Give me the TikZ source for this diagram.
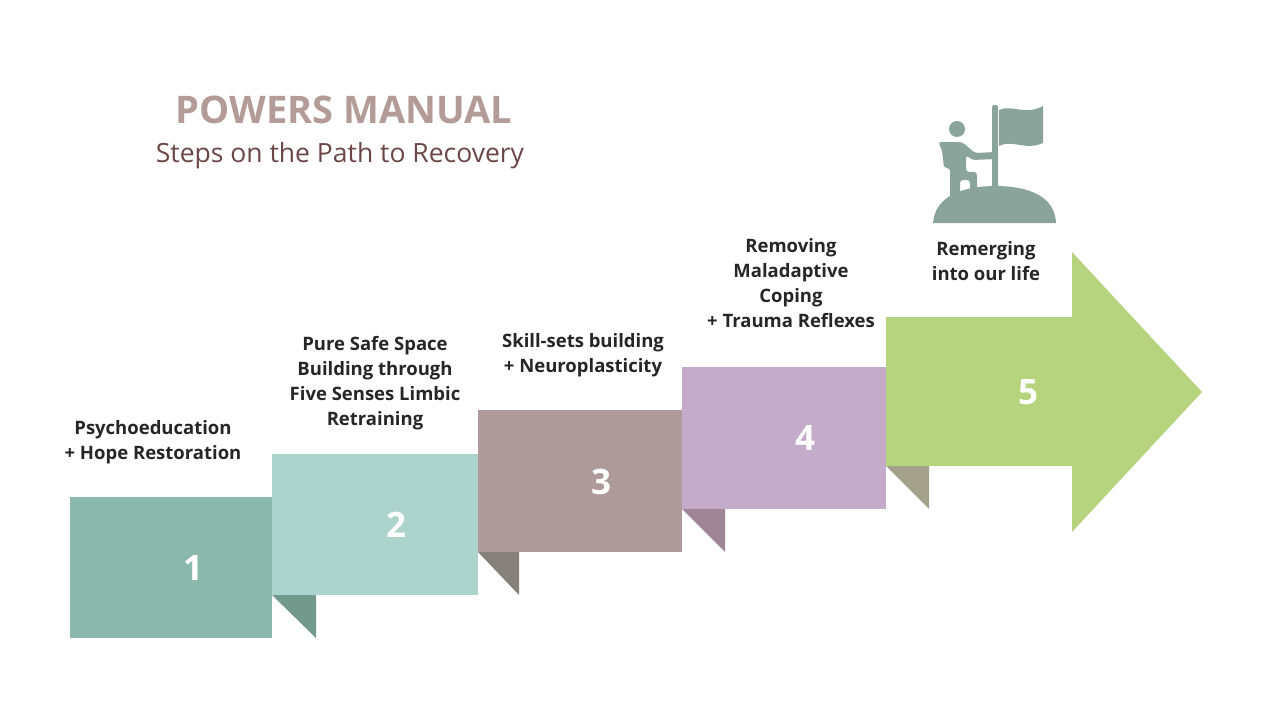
\documentclass[tikz,border=0pt]{standalone}
\usepackage{fontspec}
\setmainfont{Open Sans}
\begin{document}
\begin{tikzpicture}[x=1pt,y=-1pt,
 lbl/.style={font=\fontsize{18.5}{25}\selectfont\bfseries,text=black!85,align=center},
 num/.style={font=\fontsize{35}{35}\selectfont\bfseries,text=white}]
\definecolor{cA}{HTML}{8AB8AB}\definecolor{fA}{HTML}{72998C}
\definecolor{cB}{HTML}{ACD4CC}\definecolor{fB}{HTML}{858079}
\definecolor{cC}{HTML}{AE9A98}\definecolor{fC}{HTML}{9E8696}
\definecolor{cD}{HTML}{C3ABC9}\definecolor{fD}{HTML}{A3A08C}
\definecolor{cE}{HTML}{B6D47E}\definecolor{ic}{HTML}{8AA39B}
\definecolor{tt}{HTML}{B39C97}\definecolor{st}{HTML}{6B4747}
\useasboundingbox (0,0) rectangle (1280,720);
\fill[cA] (70,497) rectangle (272,638);
\fill[fA] (272,595) -- (316,595) -- (316,638) -- cycle;
\fill[cB] (272,454) rectangle (478,595);
\fill[fB] (478,552) -- (519,552) -- (519,595) -- cycle;
\fill[cC] (478,410) rectangle (682,552);
\fill[fC] (682,509) -- (725,509) -- (725,552) -- cycle;
\fill[cD] (682,367) rectangle (886,509);
\fill[fD] (886,466) -- (929,466) -- (929,509) -- cycle;
\fill[cE] (886,317) -- (1072,317) -- (1072,252) -- (1202,392) -- (1072,532) -- (1072,466) -- (886,466) -- cycle;
\node[num] (n1) at (193,568) {1};
\node[num] (n2) at (396,525) {2};
\node[num] (n3) at (601,482) {3};
\node[num] (n4) at (805,438) {4};
\node[num] (n5) at (1028,392) {5};
\node[lbl] (l1) at (153,442) {Psychoeducation\\+ Hope Restoration};
\node[lbl] (l2) at (375,383) {Pure Safe Space\\Building through\\Five Senses Limbic\\Retraining};
\node[lbl] (l3) at (583,355) {Skill-sets building\\+ Neuroplasticity};
\node[lbl] (l4) at (791,283) {Removing\\Maladaptive\\Coping\\+ Trauma Reflexes};
\node[lbl] (l5) at (986,261) {Remerging\\into our life};
\node[font=\fontsize{38}{38}\selectfont\bfseries,text=tt] (t) at (344,110) {POWERS MANUAL};
\node[font=\fontsize{26.5}{26.5}\selectfont,text=st] (s) at (340,156) {Steps on the Path to Recovery};
% icon
\fill[ic] (933,223) .. controls (935,195) and (965,186) .. (995,186) .. controls (1030,186) and (1055,197) .. (1056,223) -- cycle;
\fill[ic, rounded corners=2pt] (992,105) rectangle (998,192);
\fill[ic] (999,110) .. controls (1012,104) and (1025,116) .. (1043,106) -- (1043,143) .. controls (1025,151) and (1012,139) .. (999,146) -- cycle;
\fill[ic] (957,129) circle (8);
\fill[ic, rounded corners=3pt] (938,142) -- (962,142) -- (975,153) -- (996,152) -- (996,159) -- (972,160) -- (966,155) -- (966,172) -- (977,172) -- (977,190) -- (970,192) -- (970,180) -- (960,180) -- (960,197) -- (950,199) -- (950,168) -- (944,168) -- (942,150) -- cycle;
\end{tikzpicture}
\end{document}
